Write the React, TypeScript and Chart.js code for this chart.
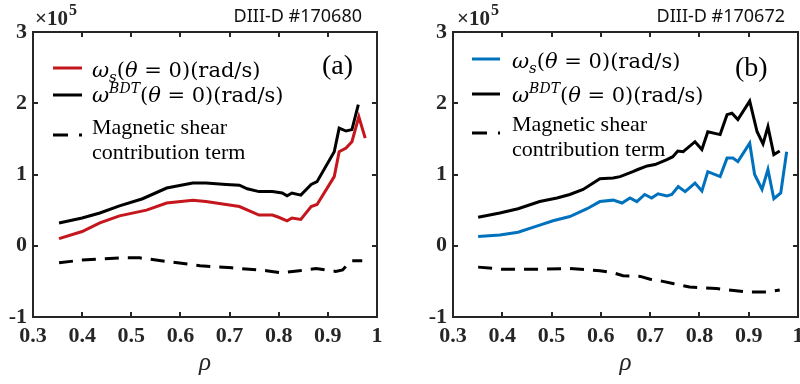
import React, { useEffect, useRef } from 'react';
import { Chart, registerables } from 'chart.js';
Chart.register(...registerables);

// ---------- data (values in units of 1e5 rad/s) ----------
const xTicks = [0.3, 0.4, 0.5, 0.6, 0.7, 0.8, 0.9, 1.0];
const yTicks = [-1, 0, 1, 2, 3];

// Panel (a) DIII-D #170680
const rhoA_ws = [0.353, 0.40, 0.436, 0.476, 0.531, 0.572, 0.625, 0.652, 0.693, 0.72, 0.76, 0.787, 0.80, 0.817, 0.827, 0.845, 0.866, 0.878, 0.913, 0.923, 0.937, 0.949, 0.963, 0.976];
const wsA = [0.10, 0.20, 0.32, 0.42, 0.50, 0.60, 0.64, 0.62, 0.58, 0.55, 0.43, 0.43, 0.40, 0.35, 0.39, 0.37, 0.55, 0.58, 0.97, 1.32, 1.37, 1.46, 1.81, 1.51];
const rhoA_bdt = [0.353, 0.40, 0.436, 0.476, 0.523, 0.572, 0.625, 0.652, 0.693, 0.72, 0.736, 0.76, 0.787, 0.807, 0.817, 0.827, 0.845, 0.866, 0.878, 0.913, 0.923, 0.937, 0.949, 0.962];
const bdtA = [0.32, 0.39, 0.46, 0.56, 0.66, 0.81, 0.88, 0.88, 0.86, 0.85, 0.80, 0.76, 0.76, 0.74, 0.70, 0.74, 0.71, 0.86, 0.90, 1.32, 1.65, 1.61, 1.63, 1.98];
const rhoA_sh = [0.353, 0.40, 0.476, 0.517, 0.572, 0.64, 0.705, 0.775, 0.807, 0.842, 0.876, 0.916, 0.93, 0.947, 0.97];
const shA = [-0.24, -0.20, -0.17, -0.17, -0.22, -0.28, -0.31, -0.35, -0.38, -0.35, -0.32, -0.36, -0.34, -0.21, -0.21];

// Panel (b) DIII-D #170672
const rhoB_ws = [0.351, 0.395, 0.432, 0.476, 0.503, 0.537, 0.572, 0.598, 0.625, 0.643, 0.659, 0.673, 0.689, 0.703, 0.716, 0.734, 0.744, 0.757, 0.771, 0.791, 0.805, 0.817, 0.842, 0.856, 0.868, 0.878, 0.902, 0.912, 0.927, 0.939, 0.951, 0.965, 0.977];
const wsB = [0.13, 0.15, 0.19, 0.29, 0.35, 0.41, 0.52, 0.62, 0.64, 0.60, 0.67, 0.62, 0.72, 0.67, 0.73, 0.70, 0.72, 0.83, 0.76, 0.88, 0.77, 1.04, 0.97, 1.23, 1.23, 1.18, 1.44, 1.00, 0.79, 1.07, 0.66, 0.74, 1.32];
const rhoB_bdt = [0.351, 0.395, 0.432, 0.476, 0.511, 0.537, 0.564, 0.598, 0.625, 0.639, 0.665, 0.675, 0.694, 0.710, 0.734, 0.746, 0.756, 0.767, 0.791, 0.805, 0.817, 0.842, 0.856, 0.866, 0.878, 0.902, 0.917, 0.929, 0.939, 0.951, 0.963];
const bdtB = [0.40, 0.46, 0.52, 0.62, 0.67, 0.72, 0.79, 0.94, 0.95, 0.97, 1.04, 1.07, 1.12, 1.14, 1.21, 1.25, 1.33, 1.32, 1.46, 1.35, 1.60, 1.56, 1.84, 1.86, 1.77, 2.03, 1.60, 1.43, 1.67, 1.28, 1.33];
const rhoB_sh = [0.351, 0.40, 0.476, 0.537, 0.598, 0.625, 0.645, 0.68, 0.70, 0.726, 0.746, 0.78, 0.835, 0.896, 0.937, 0.963];
const shB = [-0.30, -0.33, -0.33, -0.32, -0.35, -0.38, -0.42, -0.43, -0.47, -0.50, -0.53, -0.58, -0.60, -0.65, -0.65, -0.62];

const shotA = 'DIII-D #170680';
const shotB = 'DIII-D #170672';
const labelA = '(a)';
const labelB = '(b)';
const legendShear = ['Magnetic shear', 'contribution term'];

// ---------- styles ----------
const SERIF = '"Liberation Serif", "Times New Roman", serif';
const MATH = '"DejaVu Serif", serif';
const SANS = '"Noto Sans", "Open Sans", sans-serif';
const AXIS = '#262626';
const RED = '#C4161C';
const BLUE = '#0072BD';
const DASH = [14, 9];

const pts = (xs: number[], ys: number[]) => xs.map((x, i) => ({ x, y: ys[i] }));

type Seg = { t: string; it?: boolean; size?: number; dy?: number };
function drawRich(ctx: CanvasRenderingContext2D, x: number, y: number, segs: Seg[], base: number) {
  let cx = x;
  for (const s of segs) {
    const size = s.size ?? base;
    ctx.font = `${s.it ? 'italic ' : ''}${size}px ${MATH}`;
    ctx.fillText(s.t, cx, y + (s.dy ?? 0));
    cx += ctx.measureText(s.t).width;
  }
}

type Layout = {
  yW: number; padR: number;
  lineX0: number; lineX1: number; textX: number;
  rows: number[]; baselines: number[];
  expX: number; shotRight: number; tagX: number; tagY: number;
};

function makePlugin(color: string, shot: string, tag: string, L: Layout) {
  return {
    id: 'deco',
    afterDraw(chart: any) {
      const ctx: CanvasRenderingContext2D = chart.ctx;
      const a = chart.chartArea;
      const xs = chart.scales.x, ys = chart.scales.y;
      ctx.save();
      // box + inward ticks
      ctx.strokeStyle = AXIS;
      ctx.lineWidth = 2;
      ctx.strokeRect(a.left, a.top, a.right - a.left, a.bottom - a.top);
      ctx.beginPath();
      for (const v of xTicks) {
        const px = Math.round(xs.getPixelForValue(v));
        ctx.moveTo(px, a.bottom); ctx.lineTo(px, a.bottom - 5);
        ctx.moveTo(px, a.top); ctx.lineTo(px, a.top + 5);
      }
      for (const v of yTicks) {
        const py = Math.round(ys.getPixelForValue(v));
        ctx.moveTo(a.left, py); ctx.lineTo(a.left + 5, py);
        ctx.moveTo(a.right, py); ctx.lineTo(a.right - 5, py);
      }
      ctx.stroke();

      // exponent label
      ctx.fillStyle = AXIS;
      ctx.textBaseline = 'alphabetic';
      ctx.textAlign = 'left';
      ctx.font = `bold 21px ${SERIF}`;
      ctx.fillText('\u00d710', L.expX, 25);
      const w = ctx.measureText('\u00d710').width;
      ctx.font = `bold 16px ${SERIF}`;
      ctx.fillText('5', L.expX + w + 1, 15);

      // shot id
      ctx.fillStyle = '#111';
      ctx.font = `18px ${SANS}`;
      ctx.textAlign = 'right';
      ctx.fillText(shot, L.shotRight, 22);
      ctx.textAlign = 'left';

      // panel tag
      ctx.fillStyle = '#000';
      ctx.font = `28px ${SERIF}`;
      ctx.fillText(tag, L.tagX, L.tagY);

      // legend lines
      ctx.lineWidth = 3;
      ctx.lineCap = 'butt';
      ctx.strokeStyle = color;
      ctx.beginPath(); ctx.moveTo(L.lineX0, L.rows[0]); ctx.lineTo(L.lineX1, L.rows[0]); ctx.stroke();
      ctx.strokeStyle = '#000';
      ctx.beginPath(); ctx.moveTo(L.lineX0, L.rows[1]); ctx.lineTo(L.lineX1, L.rows[1]); ctx.stroke();
      ctx.setLineDash([15, 11]);
      ctx.beginPath(); ctx.moveTo(L.lineX0, L.rows[2]); ctx.lineTo(L.lineX1, L.rows[2]); ctx.stroke();
      ctx.setLineDash([]);

      // legend text
      ctx.fillStyle = '#000';
      drawRich(ctx, L.textX, L.baselines[0], [
        { t: '\u03c9', it: true }, { t: 's', it: true, size: 15, dy: 5 },
        { t: '(' }, { t: '\u03b8', it: true }, { t: ' = 0)(rad/s)' },
      ], 21);
      drawRich(ctx, L.textX, L.baselines[1], [
        { t: '\u03c9', it: true }, { t: 'BDT', it: true, size: 14, dy: -9 },
        { t: '(' }, { t: '\u03b8', it: true }, { t: ' = 0)(rad/s)' },
      ], 21);
      ctx.font = `22px ${SERIF}`;
      ctx.fillText(legendShear[0], L.textX, L.baselines[2]);
      ctx.fillText(legendShear[1], L.textX, L.baselines[3]);
      ctx.restore();
    },
  };
}

function buildConfig(color: string, ws: any[], bdt: any[], sh: any[], shot: string, tag: string, L: Layout): any {
  const tickFont = { family: SERIF, size: 22, weight: 'bold' as const };
  return {
    type: 'line',
    data: {
      datasets: [
        { data: ws, borderColor: color, borderWidth: 3, pointRadius: 0, tension: 0, fill: false },
        { data: bdt, borderColor: '#000', borderWidth: 3, pointRadius: 0, tension: 0, fill: false },
        { data: sh, borderColor: '#000', borderWidth: 3, borderDash: DASH, pointRadius: 0, tension: 0, fill: false },
      ],
    },
    options: {
      responsive: false,
      maintainAspectRatio: false,
      animation: false,
      events: [],
      layout: { padding: { left: 0, right: L.padR, top: 32, bottom: 0 } },
      plugins: { legend: { display: false }, tooltip: { enabled: false }, title: { display: false } },
      scales: {
        x: {
          type: 'linear', min: 0.3, max: 1,
          afterBuildTicks: (s: any) => { s.ticks = xTicks.map((v) => ({ value: v })); },
          afterFit: (s: any) => { s.height = 67; },
          grid: { display: false, drawTicks: false },
          border: { display: false },
          ticks: {
            font: tickFont, color: AXIS, padding: 6, maxRotation: 0, autoSkip: false,
            callback: (v: number) => String(Math.round(v * 10) / 10),
          },
          title: {
            display: true, text: '\u03c1', color: AXIS,
            font: { family: SERIF, size: 25, style: 'italic' },
            padding: { top: 0, bottom: 6 },
          },
        },
        y: {
          type: 'linear', min: -1, max: 3,
          afterBuildTicks: (s: any) => { s.ticks = yTicks.map((v) => ({ value: v })); },
          afterFit: (s: any) => { s.width = L.yW; },
          grid: { display: false, drawTicks: false },
          border: { display: false },
          ticks: { font: tickFont, color: AXIS, padding: 6, autoSkip: false, callback: (v: number) => String(v) },
        },
      },
    },
    plugins: [makePlugin(color, shot, tag, L)],
  };
}

const layoutA: Layout = {
  yW: 33, padR: 23, lineX0: 53, lineX1: 82, textX: 92,
  rows: [68, 95, 135], baselines: [77, 102, 134, 159],
  expX: 35, shotRight: 362, tagX: 322, tagY: 74,
};
const layoutB: Layout = {
  yW: 53, padR: 12, lineX0: 72, lineX1: 100, textX: 112,
  rows: [59, 94, 133], baselines: [68, 102, 131, 156],
  expX: 57, shotRight: 385, tagX: 335, tagY: 76,
};

export default function App() {
  const refA = useRef<HTMLCanvasElement>(null);
  const refB = useRef<HTMLCanvasElement>(null);
  useEffect(() => {
    const cA = new Chart(refA.current!, buildConfig(RED, pts(rhoA_ws, wsA), pts(rhoA_bdt, bdtA), pts(rhoA_sh, shA), shotA, labelA, layoutA));
    const cB = new Chart(refB.current!, buildConfig(BLUE, pts(rhoB_ws, wsB), pts(rhoB_bdt, bdtB), pts(rhoB_sh, shB), shotB, labelB, layoutB));
    return () => { cA.destroy(); cB.destroy(); };
  }, []);
  return (
    <div style={{ position: 'fixed', left: 0, top: 0, width: 800, height: 384, overflow: 'hidden', background: '#fff' }}>
      <canvas ref={refA} width={400} height={384} style={{ position: 'absolute', left: 0, top: 0, width: 400, height: 384 }} />
      <canvas ref={refB} width={410} height={384} style={{ position: 'absolute', left: 400, top: 0, width: 410, height: 384 }} />
    </div>
  );
}
